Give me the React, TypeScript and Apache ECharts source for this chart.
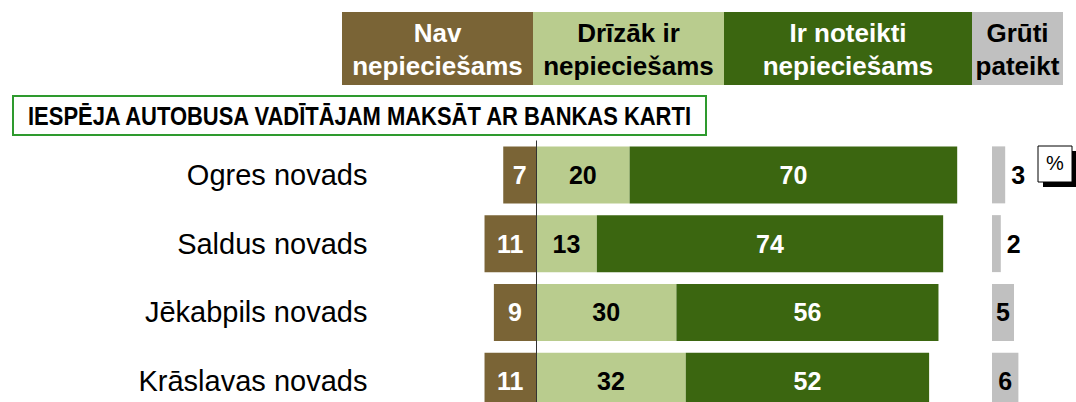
import React, { useEffect, useRef } from "react";
import * as echarts from "echarts";

const categories = ["Ogres novads", "Saldus novads", "Jēkabpils novads", "Krāslavas novads"];
const navNepieciesams = [7, 11, 9, 11];
const drizakIr = [20, 13, 30, 32];
const irNoteikti = [70, 74, 56, 52];
const grutiPateikt = [3, 2, 5, 6];
const headerLabels = ["Nav\nnepieciešams", "Drīzāk ir\nnepieciešams", "Ir noteikti\nnepieciešams", "Grūti\npateikt"];
const title = "IESPĒJA AUTOBUSA VADĪTĀJAM MAKSĀT AR BANKAS KARTI";

const BROWN = "#7a6436";
const LIGHT = "#b9cc8e";
const DARK = "#3b6610";
const GRAY = "#c0c0c0";
const FONT = "Liberation Sans, Arial, sans-serif";

export default function App() {
  const ref = useRef<HTMLDivElement>(null);
  useEffect(() => {
    const chart = echarts.init(ref.current!, undefined, { renderer: "svg" });
    const gridTop = 140.5;
    const gridH = 275;
    const valueLabel = (color: string) => ({
      show: true,
      position: "inside" as const,
      color,
      fontFamily: FONT,
      fontWeight: "bold" as const,
      fontSize: 25,
      formatter: (p: any) => String(Math.abs(p.value)),
    });
    const headerX = [342, 533, 724, 972];
    const headerW = [191, 191, 248, 91];
    const headerFill = [BROWN, LIGHT, DARK, GRAY];
    const headerText = ["#fff", "#000", "#fff", "#000"];
    const graphics: any[] = [];
    headerLabels.forEach((t, i) => {
      graphics.push({
        type: "rect",
        shape: { x: headerX[i], y: 12, width: headerW[i], height: 73 },
        style: { fill: headerFill[i] },
      });
      graphics.push({
        type: "text",
        x: headerX[i] + headerW[i] / 2,
        y: 49,
        style: {
          text: t,
          fill: headerText[i],
          font: `bold 26px ${FONT}`,
          align: "center",
          verticalAlign: "middle",
          lineHeight: 33,
        },
      });
    });
    graphics.push({
      type: "rect",
      shape: { x: 13, y: 96, width: 693, height: 39 },
      style: { fill: "#fff", stroke: "#2e9a2e", lineWidth: 2 },
    });
    graphics.push({
      type: "text",
      x: 28,
      y: 116,
      scaleX: 0.845,
      style: {
        text: title,
        fill: "#000",
        font: `bold 26px ${FONT}`,
        align: "left",
        verticalAlign: "middle",
      },
    });
    graphics.push({
      type: "rect",
      shape: { x: 1043, y: 151, width: 34, height: 36 },
      style: { fill: "#000" },
    });
    graphics.push({
      type: "rect",
      shape: { x: 1038, y: 146, width: 34, height: 36 },
      style: { fill: "#fff", stroke: "#000", lineWidth: 1 },
    });
    graphics.push({
      type: "text",
      x: 1055,
      y: 163,
      style: { text: "%", fill: "#000", font: `20px ${FONT}`, align: "center", verticalAlign: "middle" },
    });

    chart.setOption({
      animation: false,
      grid: [
        { left: 442.4, width: 561.6, top: gridTop, height: gridH },
        { left: 992, width: 44, top: gridTop, height: gridH },
      ],
      xAxis: [
        { type: "value", min: -20, max: 100, show: false, gridIndex: 0 },
        { type: "value", min: 0, max: 10, show: false, gridIndex: 1 },
      ],
      yAxis: [
        {
          type: "category",
          data: categories,
          inverse: true,
          gridIndex: 0,
          axisLine: { show: false, onZero: false },
          axisTick: { show: false },
          axisLabel: { margin: 75, color: "#000", fontSize: 29, fontFamily: FONT },
        },
        {
          type: "category",
          data: categories,
          inverse: true,
          gridIndex: 1,
          show: false,
        },
      ],
      series: [
        {
          type: "bar",
          name: "Nav nepieciešams",
          stack: "a",
          barWidth: 57,
          data: navNepieciesams.map((v) => -v),
          itemStyle: { color: BROWN },
          label: valueLabel("#fff"),
          markLine: {
            silent: true,
            symbol: "none",
            label: { show: false },
            lineStyle: { color: "#333", width: 1, type: "solid" },
            data: [{ xAxis: 0 }],
          },
        },
        {
          type: "bar",
          name: "Drīzāk ir nepieciešams",
          stack: "a",
          barWidth: 57,
          data: drizakIr,
          itemStyle: { color: LIGHT },
          label: valueLabel("#000"),
        },
        {
          type: "bar",
          name: "Ir noteikti nepieciešams",
          stack: "a",
          barWidth: 57,
          data: irNoteikti,
          itemStyle: { color: DARK },
          label: valueLabel("#fff"),
        },
        {
          type: "bar",
          name: "Grūti pateikt",
          xAxisIndex: 1,
          yAxisIndex: 1,
          barWidth: 57,
          data: grutiPateikt.map((v) => ({
            value: v,
            label: v < 4 ? { position: "right", distance: 6 } : { position: "inside" },
          })),
          itemStyle: { color: GRAY },
          label: {
            show: true,
            color: "#000",
            fontFamily: FONT,
            fontWeight: "bold",
            fontSize: 25,
          },
        },
      ],
      graphic: graphics,
    });
    return () => chart.dispose();
  }, []);
  return (
    <div
      ref={ref}
      style={{ position: "fixed", left: 0, top: 0, width: 1076, height: 440, background: "#fff" }}
    />
  );
}
